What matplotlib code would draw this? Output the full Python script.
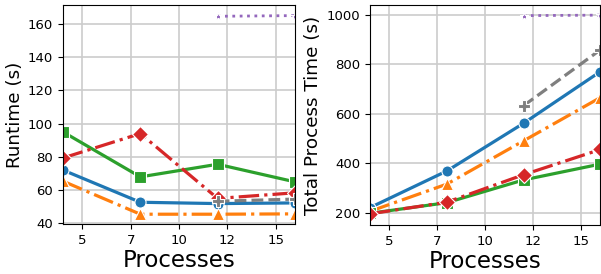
import numpy as np
import matplotlib
matplotlib.use("Agg")
import matplotlib.pyplot as plt
from matplotlib.ticker import FixedLocator, FixedFormatter

processes = [4, 8, 12, 16]
processes_late = [12, 16]

# runtime (s)
rt_blue = [72, 52.6, 51.8, 52.2]
rt_orange = [65.3, 45.4, 45.4, 45.6]
rt_green = [95, 67.9, 75.5, 64.9]
rt_red = [79.3, 94, 54.9, 58.3]
rt_gray = [53.2, 54.5]
rt_purple = [164.7, 165.1]

# total process time (s)
tp_blue = [220, 368, 561, 770]
tp_orange = [205, 315, 490, 665]
tp_green = [197, 240, 332, 396]
tp_red = [195, 242, 353, 455]
tp_gray = [632, 858]
tp_purple = [996, 998]

xticks = [5, 7.5, 10, 12.5, 15]
xtick_labels = ["5", "7", "10", "12", "15"]

# colour, linestyle, marker, markersize, linewidth
styles = [
    ("#1f77b4", "-", "o", 8, 2.3),
    ("#ff7f0e", "-.", "^", 8, 2.3),
    ("#2ca02c", "-", "s", 8, 2.3),
    ("#d62728", (0, (6.4, 1.6, 1, 1.6)), "D", 8, 2.3),
    ("#7f7f7f", "--", "P", 9, 2.3),
    ("#9467bd", ":", "*", 6, 2.0),
]

fig = plt.figure(figsize=(6.01, 2.74), dpi=100)
ax1 = fig.add_axes([0.1048, 0.1825, 0.386, 0.7993])
ax2 = fig.add_axes([0.6156, 0.1790, 0.3834, 0.8028])


def draw(ax, series):
    for (xs, ys), (c, ls, m, ms, lw) in zip(series, styles):
        ax.plot(xs, ys, color=c, linestyle=ls, marker=m, markersize=ms,
                linewidth=lw, markeredgecolor="white", markeredgewidth=0.8)
    ax.set_xlim(4, 16)
    ax.xaxis.set_major_locator(FixedLocator(xticks))
    ax.xaxis.set_major_formatter(FixedFormatter(xtick_labels))
    ax.grid(True, color="#cccccc", linewidth=1.2)
    ax.set_axisbelow(True)
    ax.tick_params(labelsize=9.5)
    ax.set_xlabel("Processes", fontsize=16.5, labelpad=2)


draw(ax1, [(processes, rt_blue), (processes, rt_orange), (processes, rt_green),
           (processes, rt_red), (processes_late, rt_gray), (processes_late, rt_purple)])
ax1.set_ylim(39.5, 171.5)
ax1.set_yticks([40, 60, 80, 100, 120, 140, 160])
ax1.set_ylabel("Runtime (s)", fontsize=13.2, labelpad=3)

draw(ax2, [(processes, tp_blue), (processes, tp_orange), (processes, tp_green),
           (processes, tp_red), (processes_late, tp_gray), (processes_late, tp_purple)])
ax2.set_ylim(150, 1039)
ax2.set_yticks([200, 400, 600, 800, 1000])
ax2.set_ylabel("Total Process Time (s)", fontsize=13.2, labelpad=3)

fig.savefig("out.png", dpi=100)
